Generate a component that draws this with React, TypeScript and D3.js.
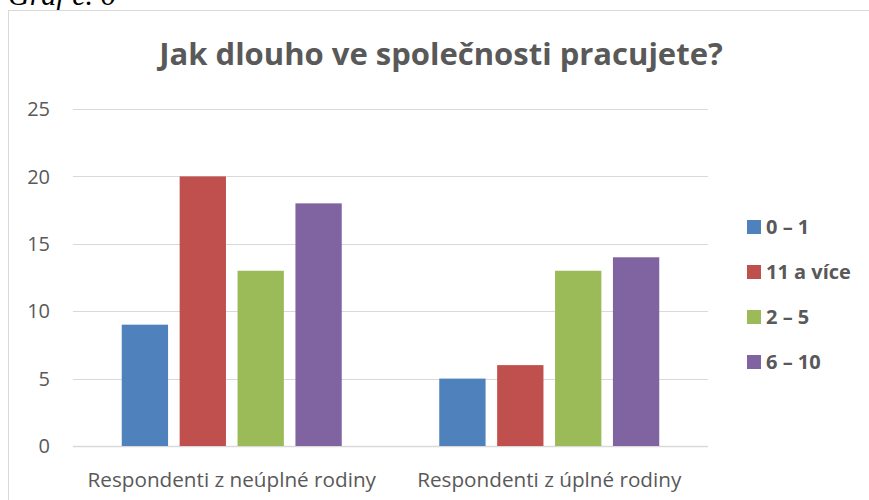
import * as d3 from "d3";
import { useEffect, useRef } from "react";

const categories = ["Respondenti z neúplné rodiny", "Respondenti z úplné rodiny"];
const seriesNames = ["0 – 1", "11 a více", "2 – 5", "6 – 10"];
const seriesColors = ["#4f81bd", "#c0504d", "#9bbb59", "#8064a2"];
const values0to1 = [9, 5];
const values11plus = [20, 6];
const values2to5 = [13, 13];
const values6to10 = [18, 14];
const yTicks = [0, 5, 10, 15, 20, 25];

const seriesValues = [values0to1, values11plus, values2to5, values6to10];

export default function App() {
  const svgRef = useRef<SVGSVGElement>(null);
  const width = 869;
  const height = 500;

  useEffect(() => {
    if (!svgRef.current) return;
    const svg = d3.select(svgRef.current);
    svg.selectAll("*").remove();

    const textColor = "#595959";
    const font = "'Open Sans', 'Liberation Sans', sans-serif";

    // caption above the chart frame (cut off at the top, as in the source)
    svg
      .append("text")
      .attr("x", 8)
      .attr("y", 5)
      .style("font-family", "'Liberation Serif', 'Times New Roman', serif")
      .style("font-style", "italic")
      .style("font-size", "30px")
      .style("fill", "#000")
      .text("Graf č. 6");

    // chart frame
    svg
      .append("rect")
      .attr("x", 8.5)
      .attr("y", 10.5)
      .attr("width", 880)
      .attr("height", 520)
      .attr("fill", "#fff")
      .attr("stroke", "#d9d9d9")
      .attr("stroke-width", 1);

    const plot = { left: 73, right: 708, top: 109, bottom: 446 };

    const x0 = d3.scaleBand().domain(categories).range([plot.left, plot.right]);
    const groupPad = 48.75;
    const y = d3.scaleLinear().domain([0, 25]).range([plot.bottom, plot.top]);

    // gridlines
    svg
      .append("g")
      .selectAll("line")
      .data(yTicks)
      .enter()
      .append("line")
      .attr("x1", plot.left)
      .attr("x2", plot.right)
      .attr("y1", (d) => Math.round(y(d)) + 0.5)
      .attr("y2", (d) => Math.round(y(d)) + 0.5)
      .attr("stroke", "#d9d9d9")
      .attr("stroke-width", (d) => (d === 0 ? 1.5 : 1));

    // y tick labels
    svg
      .append("g")
      .selectAll("text")
      .data(yTicks)
      .enter()
      .append("text")
      .attr("x", 50)
      .attr("y", (d) => y(d))
      .attr("dy", "0.36em")
      .attr("text-anchor", "end")
      .style("font-family", font)
      .style("font-size", "20px")
      .style("fill", textColor)
      .text((d) => d);

    // bars
    categories.forEach((cat, ci) => {
      const start = x0(cat)!;
      const x1 = d3
        .scaleBand()
        .domain(seriesNames)
        .range([start + groupPad, start + x0.bandwidth() - groupPad])
        .paddingInner(0.2);

      svg
        .append("g")
        .selectAll("rect")
        .data(seriesNames)
        .enter()
        .append("rect")
        .attr("x", (s) => x1(s)!)
        .attr("width", x1.bandwidth())
        .attr("y", (s, i) => y(seriesValues[i][ci]))
        .attr("height", (s, i) => plot.bottom - y(seriesValues[i][ci]))
        .attr("fill", (s, i) => seriesColors[i]);
    });

    // category labels
    svg
      .append("g")
      .selectAll("text")
      .data(categories)
      .enter()
      .append("text")
      .attr("x", (d) => x0(d)! + x0.bandwidth() / 2)
      .attr("y", 487)
      .attr("text-anchor", "middle")
      .style("font-family", font)
      .style("font-size", "20.7px")
      .style("fill", textColor)
      .text((d) => d);

    // title
    svg
      .append("text")
      .attr("x", 441)
      .attr("y", 65)
      .attr("text-anchor", "middle")
      .style("font-family", font)
      .style("font-size", "31px")
      .style("font-weight", "bold")
      .style("fill", textColor)
      .text("Jak dlouho ve společnosti pracujete?");

    // legend
    const legend = svg
      .append("g")
      .selectAll("g")
      .data(seriesNames)
      .enter()
      .append("g")
      .attr("transform", (d, i) => `translate(747, ${227 + i * 45})`);

    legend
      .append("rect")
      .attr("x", 0)
      .attr("y", -7)
      .attr("width", 14)
      .attr("height", 14)
      .attr("fill", (d, i) => seriesColors[i]);

    legend
      .append("text")
      .attr("x", 19)
      .attr("y", 0)
      .attr("dy", "0.36em")
      .style("font-family", font)
      .style("font-size", "20px")
      .style("font-weight", "bold")
      .style("fill", textColor)
      .text((d) => d);
  }, []);

  return (
    <div style={{ position: "absolute", left: 0, top: 0 }}>
      <svg ref={svgRef} width={width} height={height} style={{ display: "block" }} />
    </div>
  );
}
